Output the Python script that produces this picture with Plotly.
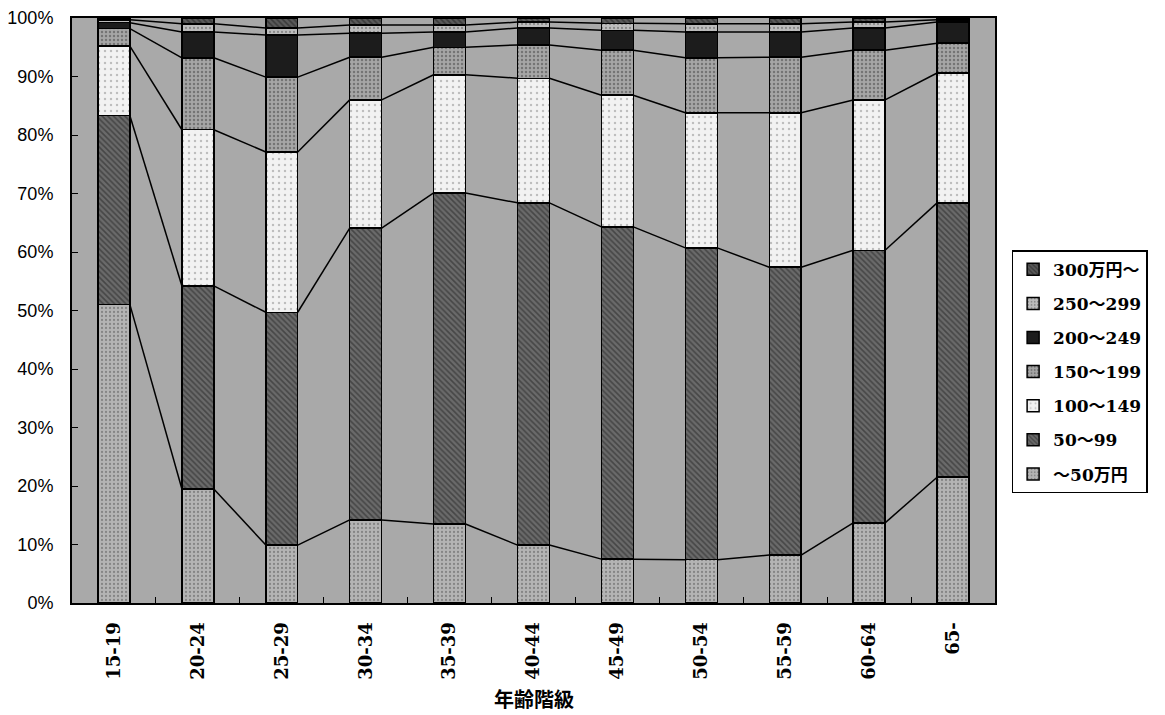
import plotly.graph_objects as go

age_groups = ["15-19", "20-24", "25-29", "30-34", "35-39", "40-44",
              "45-49", "50-54", "55-59", "60-64", "65-"]
series_names = ["～50万円", "50～99", "100～149", "150～199", "200～249", "250～299", "300万円～"]

under50 = [51.0, 19.5, 9.9, 14.2, 13.5, 9.9, 7.5, 7.4, 8.2, 13.7, 21.5]
r50_99 = [32.3, 34.7, 39.8, 49.9, 56.6, 58.5, 56.8, 53.3, 49.2, 46.6, 46.9]
r100_149 = [11.9, 26.7, 27.4, 21.9, 20.2, 21.3, 22.5, 23.1, 26.4, 25.7, 22.2]
r150_199 = [3.0, 12.3, 12.8, 7.3, 4.7, 5.7, 7.7, 9.4, 9.5, 8.5, 5.1]
r200_249 = [1.0, 4.4, 7.2, 4.1, 2.6, 2.9, 3.4, 4.4, 4.3, 3.8, 3.6]
r250_299 = [0.5, 1.4, 1.2, 1.4, 1.2, 1.0, 1.2, 1.4, 1.4, 1.0, 0.4]
over300 = [0.3, 1.0, 1.7, 1.2, 1.2, 0.7, 0.9, 1.0, 1.0, 0.7, 0.3]

series_values = [under50, r50_99, r100_149, r150_199, r200_249, r250_299, over300]

y_ticks = [0, 10, 20, 30, 40, 50, 60, 70, 80, 90, 100]
x_title = "年齢階級"

styles = [
    dict(color="#b4b4b4", pattern=dict(shape=".", fgcolor="#555555", size=4, solidity=0.25)),
    dict(color="#6a6a6a", pattern=dict(shape="\\", fgcolor="#222222", size=4, solidity=0.4)),
    dict(color="#f2f2f2", pattern=dict(shape=".", fgcolor="#888888", size=6, solidity=0.12)),
    dict(color="#a6a6a6", pattern=dict(shape=".", fgcolor="#444444", size=4, solidity=0.3)),
    dict(color="#1c1c1c"),
    dict(color="#bdbdbd", pattern=dict(shape=".", fgcolor="#555555", size=4, solidity=0.25)),
    dict(color="#5a5a5a", pattern=dict(shape="\\", fgcolor="#1a1a1a", size=4, solidity=0.4)),
]

bar_w = 0.38
xs = list(range(len(age_groups)))

fig = go.Figure()
n = len(series_names)
for k, (name, vals, st) in enumerate(zip(series_names, series_values, styles)):
    marker = dict(color=st["color"], line=dict(color="black", width=1.5))
    if "pattern" in st:
        marker["pattern"] = st["pattern"]
    fig.add_trace(go.Bar(x=xs, y=vals, name=name, width=bar_w, marker=marker,
                         legendgroup=name, legendrank=n - k))

# series lines connecting segment tops between adjacent bars
cum = []
run = [0.0] * len(xs)
for vals in series_values[:-1]:
    run = [a + b for a, b in zip(run, vals)]
    cum.append(list(run))
for level in cum:
    lx, ly = [], []
    for i in range(len(xs) - 1):
        lx += [xs[i] + bar_w / 2, xs[i + 1] - bar_w / 2, None]
        ly += [level[i], level[i + 1], None]
    fig.add_trace(go.Scatter(x=lx, y=ly, mode="lines", line=dict(color="black", width=1.5),
                             showlegend=False, hoverinfo="skip"))

serif = "DejaVu Serif"
fig.update_layout(
    width=1157, height=707,
    barmode="stack",
    paper_bgcolor="white",
    plot_bgcolor="#a9a9a9",
    margin=dict(l=64, r=170, t=10, b=112, autoexpand=False),
    font=dict(family="Noto Sans CJK JP", size=17, color="black"),
    legend=dict(
        x=1.018, y=0.603, xanchor="left", yanchor="top",
        traceorder="grouped",
        bordercolor="black", borderwidth=1.5,
        font=dict(size=17, family=serif + ", Noto Sans CJK JP", weight="bold"),
        tracegroupgap=9,
        itemwidth=30,
    ),
    showlegend=True,
    annotations=[dict(
        text=x_title, xref="paper", yref="paper", x=0.5, y=-0.163,
        xanchor="center", yanchor="middle", showarrow=False,
        font=dict(family="Noto Sans CJK JP", size=20, weight="bold"),
    )],
)
fig.update_xaxes(
    automargin=False,
    range=[-0.5, len(xs) - 0.5],
    tickmode="array", tickvals=xs, ticktext=age_groups,
    tickangle=-90, ticks="",
    ticklabelstandoff=10,
    showline=True, linecolor="black", linewidth=2, mirror=True,
    showgrid=False, zeroline=False,
    minor=dict(tickmode="array", tickvals=[i + 0.5 for i in xs[:-1]],
               ticks="inside", ticklen=6, tickcolor="black"),
    tickfont=dict(size=18, family=serif, weight="bold"),
)
fig.update_yaxes(
    automargin=False,
    range=[0, 100], tickmode="array", tickvals=y_ticks,
    ticktext=[f"{v}%" for v in y_ticks],
    ticks="inside", ticklen=6, tickcolor="black",
    ticklabelstandoff=13,
    showline=True, linecolor="black", linewidth=2, mirror=True,
    showgrid=False, zeroline=False,
    tickfont=dict(size=18, family="Liberation Sans"),
)

fig.write_html("out.html")
